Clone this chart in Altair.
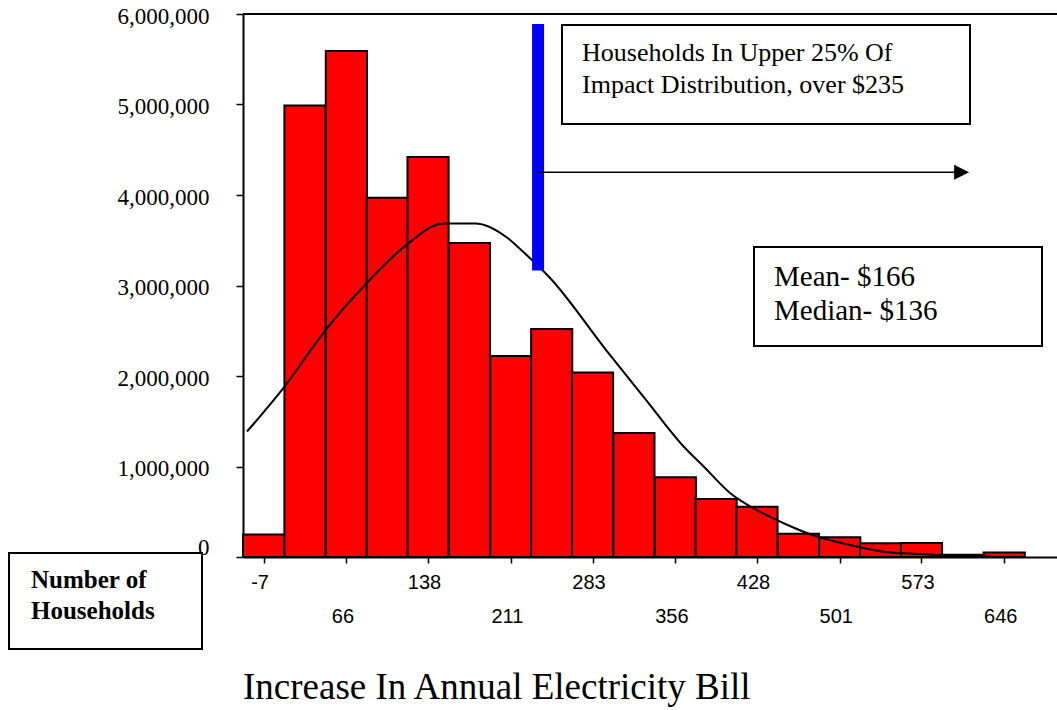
import altair as alt
import pandas as pd

# ---- data ----
bin_centers = [-7, 29.5, 66, 102, 138, 174.5, 211, 247, 283, 319.5, 356, 392,
               428, 464.5, 501, 537, 573, 609.5, 646]
households = [250000, 4990000, 5590000, 3970000, 4420000, 3470000, 2220000,
              2520000, 2040000, 1370000, 880000, 640000, 556000, 258000,
              218000, 152000, 155000, 25000, 50000]
bin_half = 18.14
tick_values = [-7, 66, 138, 211, 283, 356, 428, 501, 573, 646]
lower_row = [66, 211, 356, 501, 646]
y_ticks = [0, 1000000, 2000000, 3000000, 4000000, 5000000, 6000000]

curve_x = [-21.6, 10.6, 46.8, 84.2, 119.5, 151.7, 179.7, 207.6, 219.4, 245.8,
           294.8, 329.6, 363.3, 381.0, 404.5, 422.2, 451.5, 481.0, 510.3,
           539.7, 569.1, 598.5, 633.8]
curve_y = [1387000, 1868000, 2494000, 3030000, 3454000, 3686000, 3686000,
           3530000, 3400000, 3080000, 2290000, 1745000, 1221000, 1000000,
           705000, 557000, 373000, 225000, 133000, 59000, 33000, 17000, 6000]

upper_cut = [235]
blue_low = [3166000]
blue_high = [5889000]
arrow_y = [4251000]
arrow_base = [602]
arrow_tip = [615]

x_domain = [-25.14, 692.5]
y_domain = [0, 6000000]

W, H = 814, 543
SERIF = "Liberation Serif, Times New Roman, serif"
SANS = "Liberation Sans, Arial, sans-serif"

bars_df = pd.DataFrame({
    "lo": [c - bin_half for c in bin_centers],
    "hi": [c + bin_half for c in bin_centers],
    "n": households,
})
curve_df = pd.DataFrame({"lo": curve_x, "n": curve_y})
one = pd.DataFrame({"k": [0]})

xs = alt.Scale(domain=x_domain, nice=False, zero=False)
ys = alt.Scale(domain=y_domain, nice=False)

x_axis = alt.Axis(
    values=tick_values, grid=False, domainColor="black", domainWidth=2,
    tickColor="black", tickWidth=1.5, tickSize=6,
    labelFont=SANS, labelFontSize=20, labelColor="black",
    labelBaseline="top", labelOffset=-4, labelFlush=False,
    labelOverlap=False, labelExpr="'' + datum.value",
    labelPadding=alt.condition(
        f"indexof({lower_row}, datum.value) >= 0", alt.value(43), alt.value(9)),
)
y_axis = alt.Axis(
    values=y_ticks, format=",.0f", grid=False, domainColor="black",
    domainWidth=2, tickColor="black", tickWidth=1.5, tickSize=7,
    labelFont=SERIF, labelFontSize=23, labelColor="black",
    labelBaseline="middle", labelPadding=27, labelOverlap=False,
    labelOffset=alt.condition("datum.value == 0", alt.value(-10), alt.value(2)),
)


def X(field):
    return alt.X(field, type="quantitative", scale=xs, title=None, axis=x_axis)


def Y(field):
    return alt.Y(field, type="quantitative", scale=ys, title=None, axis=y_axis)


bars = alt.Chart(bars_df).mark_rect(
    fill="#ff0000", stroke="black", strokeWidth=2
).encode(x=X("lo"), x2="hi:Q", y=Y("n"), y2=alt.datum(0))

top_line = alt.Chart(one).mark_rule(color="black", strokeWidth=2).encode(
    x=alt.value(0), x2=alt.value(W), y=alt.value(0)
)

curve = alt.Chart(curve_df).mark_line(
    color="black", strokeWidth=2, interpolate="monotone"
).encode(x=X("lo"), y=Y("n"))

blue = alt.Chart(pd.DataFrame({"lo": upper_cut, "n": blue_low, "n2": blue_high})).mark_rule(
    color="#0000ff", strokeWidth=12
).encode(x=X("lo"), y=Y("n"), y2="n2:Q")

arrow = alt.Chart(pd.DataFrame({"lo": upper_cut, "hi": arrow_base, "n": arrow_y})).mark_rule(
    color="black", strokeWidth=1.5
).encode(x=X("lo"), x2="hi:Q", y=Y("n"))

head = alt.Chart(pd.DataFrame({"lo": arrow_tip, "n": arrow_y})).mark_point(
    shape="M0,0L-2,-1L-2,1Z", size=225, filled=True, fill="black",
    strokeWidth=0, opacity=1
).encode(x=X("lo"), y=Y("n"))


def box(x1, x2, y1, y2):
    return alt.Chart(one).mark_rect(
        fill="white", stroke="black", strokeWidth=2
    ).encode(x=alt.value(x1), x2=alt.value(x2), y=alt.value(y1), y2=alt.value(y2))


def label(txt, x, y, size, weight="normal", font=SERIF):
    return alt.Chart(one).mark_text(
        text=txt, font=font, fontSize=size, fontWeight=weight, color="black",
        align="left", baseline="alphabetic"
    ).encode(x=alt.value(x), y=alt.value(y))


layers = [
    bars, curve, top_line, blue, arrow, head,
    box(319, 727, 11, 110),
    label("Households In Upper 25% Of", 339, 47, 26),
    label("Impact Distribution, over $235", 339, 79, 26),
    box(511, 799, 233, 332),
    label("Mean- $166", 531, 272, 29),
    label("Median- $136", 531, 306, 29),
    box(-234, -41, 539, 635),
    label("Number of", -212, 574, 25, "bold"),
    label("Households", -212, 605, 25, "bold"),
    label("Increase In Annual Electricity Bill", 0, 685, 37),
]

chart = alt.layer(*layers).properties(
    width=W, height=H,
    padding={"left": 243, "top": 14, "right": 0, "bottom": 153},
    autosize=alt.AutoSizeParams(type="none"),
    background="white",
).configure_view(stroke=None).configure_axisY(
    labelFont=SERIF, labelFontSize=23, labelColor="black"
).configure_axisX(
    labelFont=SANS, labelFontSize=20, labelColor="black"
)

chart.save("out.html", embed_options={"renderer": "svg", "actions": False})
